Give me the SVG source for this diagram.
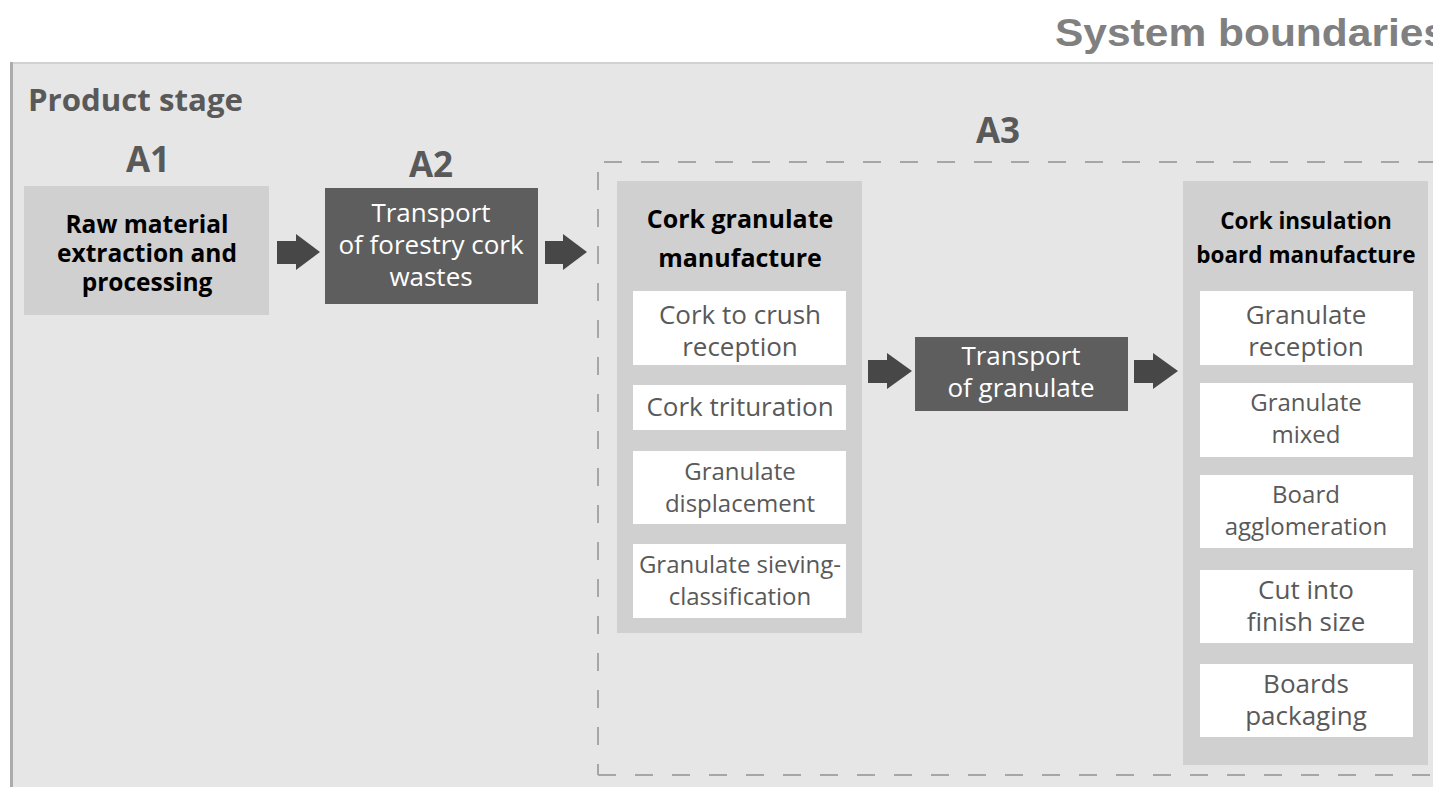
<svg xmlns="http://www.w3.org/2000/svg" width="1433" height="787" viewBox="0 0 1433 787">
  <style>
    .panel { fill: #e6e6e6; }
    .stage { fill: #d0d0d0; }
    .dark { fill: #5e5e5e; }
    .step { fill: #ffffff; }
    .arrow { fill: #474747; }
    .dash { stroke: #a6a6a6; stroke-width: 2; stroke-dasharray: 18 19; fill: none; }
    text { font-family: "Open Sans", "Liberation Sans", sans-serif; text-anchor: middle; }
    .head { font-weight: 700; fill: #595959; }
    .title { font-weight: 700; fill: #000000; }
    .light { fill: #ffffff; font-size: 26px; }
    .sub { fill: #595959; font-size: 26px; }
    .small { font-size: 24px; }
  </style>

  <!-- system boundary heading -->
  <text x="1055" y="46" style="font-family:'Liberation Sans', Arial, sans-serif; font-weight:700; font-size:39px; fill:#808080; text-anchor:start" textLength="392" lengthAdjust="spacingAndGlyphs">System boundaries</text>

  <!-- product stage panel -->
  <g id="product-stage">
    <rect class="panel" x="10" y="62" width="1430" height="730"/>
    <line x1="10" y1="63" x2="1433" y2="63" stroke="#d2d2d2" stroke-width="2"/>
    <line x1="11.5" y1="62" x2="11.5" y2="787" stroke="#acacac" stroke-width="3"/>
    <text class="head" x="28" y="111" style="text-anchor:start; font-size:31px" textLength="215" lengthAdjust="spacingAndGlyphs">Product stage</text>
    <text class="head" x="148" y="172" style="font-size:35px">A1</text>
    <text class="head" x="431" y="177" style="font-size:35px">A2</text>
    <text class="head" x="998" y="143" style="font-size:35px">A3</text>
  </g>

  <!-- A3 boundary (dashed) -->
  <g id="a3-boundary">
    <line class="dash" x1="604" y1="162" x2="1440" y2="162"/>
    <line class="dash" x1="598" y1="172" x2="598" y2="775"/>
    <line class="dash" x1="598" y1="775" x2="1440" y2="775"/>
  </g>

  <!-- A1 -->
  <g id="raw-material">
    <rect class="stage" x="24" y="186" width="245" height="129"/>
    <text class="title" x="147" y="233" style="font-size:24.5px">Raw material</text>
    <text class="title" x="147" y="262" style="font-size:24.5px">extraction and</text>
    <text class="title" x="147" y="291" style="font-size:24.5px">processing</text>
  </g>

  <!-- A2 -->
  <g id="transport-cork-wastes">
    <rect class="dark" x="325" y="188" width="213" height="116"/>
    <text class="light" x="431" y="222">Transport</text>
    <text class="light" x="431" y="254">of forestry cork</text>
    <text class="light" x="431" y="286">wastes</text>
  </g>

  <!-- A3: granulate manufacture -->
  <g id="granulate-manufacture">
    <rect class="stage" x="617" y="181" width="245" height="452"/>
    <text class="title" x="740" y="228" style="font-size:25px">Cork granulate</text>
    <text class="title" x="740" y="267" style="font-size:25px">manufacture</text>

    <rect class="step" x="633" y="291" width="213" height="74"/>
    <text class="sub" x="740" y="324">Cork to crush</text>
    <text class="sub" x="740" y="356">reception</text>

    <rect class="step" x="633" y="385" width="213" height="45"/>
    <text class="sub" x="740" y="416">Cork trituration</text>

    <rect class="step" x="633" y="451" width="213" height="73"/>
    <text class="sub small" x="740" y="480">Granulate</text>
    <text class="sub small" x="740" y="512">displacement</text>

    <rect class="step" x="633" y="544" width="213" height="74"/>
    <text class="sub small" x="740" y="573">Granulate sieving-</text>
    <text class="sub small" x="740" y="605">classification</text>
  </g>

  <!-- A3: transport of granulate -->
  <g id="transport-granulate">
    <rect class="dark" x="915" y="337" width="213" height="74"/>
    <text class="light" x="1021" y="365">Transport</text>
    <text class="light" x="1021" y="397">of granulate</text>
  </g>

  <!-- A3: insulation board manufacture -->
  <g id="board-manufacture">
    <rect class="stage" x="1183" y="181" width="245" height="584"/>
    <text class="title" x="1306" y="229" style="font-size:22.5px">Cork insulation</text>
    <text class="title" x="1306" y="263" style="font-size:22.5px">board manufacture</text>

    <rect class="step" x="1200" y="291" width="213" height="74"/>
    <text class="sub" x="1306" y="324">Granulate</text>
    <text class="sub" x="1306" y="356">reception</text>

    <rect class="step" x="1200" y="383" width="213" height="74"/>
    <text class="sub small" x="1306" y="411">Granulate</text>
    <text class="sub small" x="1306" y="443">mixed</text>

    <rect class="step" x="1200" y="475" width="213" height="73"/>
    <text class="sub small" x="1306" y="503">Board</text>
    <text class="sub small" x="1306" y="535">agglomeration</text>

    <rect class="step" x="1200" y="570" width="213" height="73"/>
    <text class="sub" x="1306" y="599">Cut into</text>
    <text class="sub" x="1306" y="631">finish size</text>

    <rect class="step" x="1200" y="664" width="213" height="73"/>
    <text class="sub" x="1306" y="693">Boards</text>
    <text class="sub" x="1306" y="725">packaging</text>
  </g>

  <!-- flow arrows -->
  <g id="connectors">
    <polygon class="arrow" points="277,241 296,241 296,234 320,252 296,270 296,264 277,264"/>
    <polygon class="arrow" points="545,241 563,241 563,234 587,252 563,270 563,264 545,264"/>
    <polygon class="arrow" points="868,360 887,360 887,353 912,371 887,389 887,383 868,383"/>
    <polygon class="arrow" points="1134,360 1153,360 1153,353 1178,371 1153,389 1153,383 1134,383"/>
  </g>
</svg>
